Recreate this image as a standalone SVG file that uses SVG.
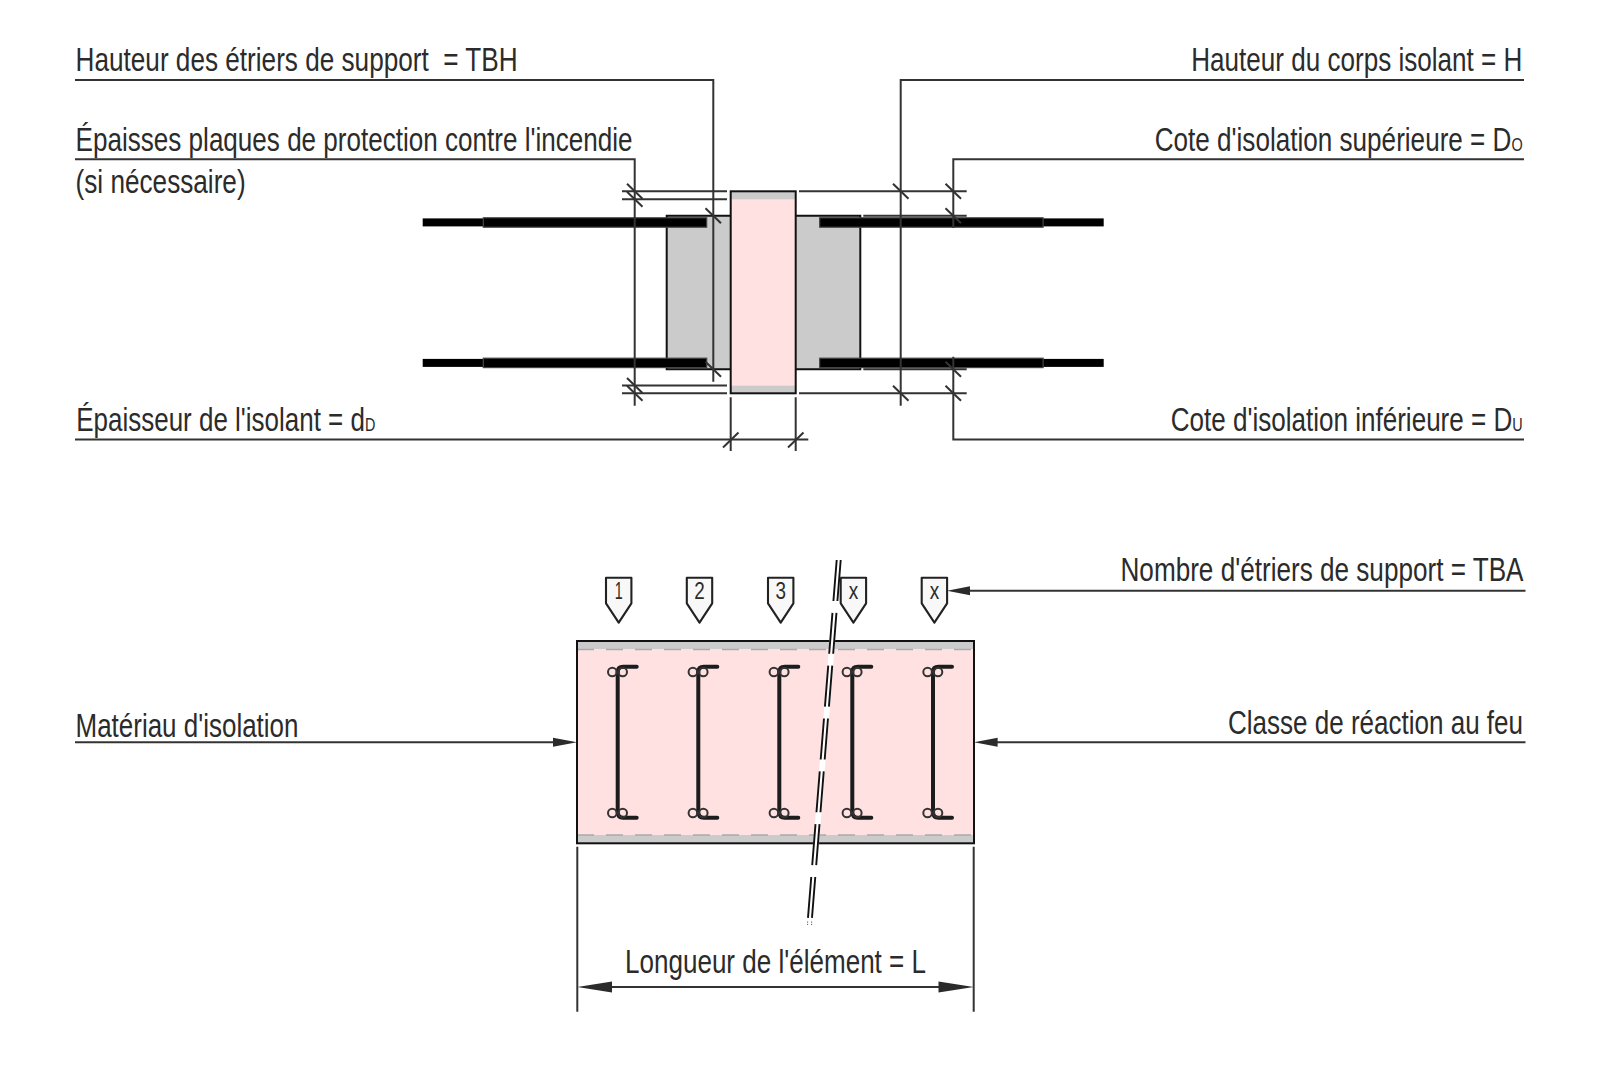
<svg xmlns="http://www.w3.org/2000/svg" width="1604" height="1067" viewBox="0 0 1604 1067">
<style>
text{font-family:"Liberation Sans Narrow","Liberation Sans",Arial,sans-serif;font-size:32.5px;fill:#2b2b2b;white-space:pre}
.sub{font-size:18px}
.tag{font-size:23px;text-anchor:middle}
.tagx{font-size:24px;text-anchor:middle}
.dim{fill:none;stroke:#333;stroke-width:2}
.out{stroke:#111;stroke-width:2}
.pink{fill:#ffe1e1}
.grey{fill:#cbcbcb}
.bar{fill:#000;stroke:none}
.barthick{fill:#000;stroke:#444;stroke-width:1.2}
.head{fill:#2b2b2b;stroke:none}
.stirrup{fill:none;stroke:#1c1c1c;stroke-width:4;stroke-linecap:round}
.ring{fill:none;stroke:#333;stroke-width:2}
.tagshape{fill:#f8f8f8;stroke:#222;stroke-width:2.1;stroke-linejoin:round}
.edge{fill:none;stroke:#aaa;stroke-width:1.4;stroke-dasharray:17 12}
</style>
<defs>
<g id="stirrup-shape">
<path class="stirrup" d="M0 672V812Q0 817.7 5.5 817.7H19"/>
<path class="stirrup" d="M0 672Q0 666.7 5.5 666.7H19"/>
<circle class="ring" cx="-5.4" cy="672" r="4.3"/><circle class="ring" cx="5" cy="672" r="4.3"/>
<circle class="ring" cx="-5.4" cy="813" r="4.3"/><circle class="ring" cx="5" cy="813" r="4.3"/>
</g>
<path id="tag-shape" class="tagshape" d="M-12.7 577.7H12.7V603.3L0 622.7L-12.7 603.3Z"/>
</defs>

<g id="section-insulation">
<rect class="grey" x="666.7" y="215.7" width="193.6" height="153.6"/>
<path class="out" fill="none" d="M730.7 215.7H666.7V369.3H730.7M795.7 215.7H860.3V369.3H795.7"/>
<rect class="pink" x="730.7" y="191.3" width="65" height="202"/>
<rect class="grey" x="730.7" y="191.3" width="65" height="8"/>
<rect class="grey" x="730.7" y="385.7" width="65" height="7.6"/>
<rect class="out" fill="none" x="730.7" y="191.3" width="65" height="202"/>
</g>
<g id="rebar-top-left"><rect class="bar" x="422.7" y="218.4" width="61" height="8"/><rect class="barthick" x="483.3" y="217.8" width="223.4" height="9.4"/></g>
<g id="rebar-top-right"><rect class="bar" x="1043" y="218.4" width="60.7" height="8"/><rect class="barthick" x="819.7" y="217.8" width="223.4" height="9.4"/></g>
<g id="rebar-bottom-left"><rect class="bar" x="422.7" y="358.9" width="61" height="8"/><rect class="barthick" x="483.3" y="358.2" width="223.4" height="9.4"/></g>
<g id="rebar-bottom-right"><rect class="bar" x="1043" y="358.9" width="60.7" height="8"/><rect class="barthick" x="819.7" y="358.2" width="223.4" height="9.4"/></g>

<g id="element-plan">
<rect class="pink" x="577" y="641" width="397" height="202.3"/>
<rect class="grey" x="577" y="641" width="397" height="8"/>
<rect class="grey" x="577" y="835" width="397" height="8.3"/>
<path class="edge" d="M577 649.5H974M577 835H974"/>
<rect class="out" fill="none" x="577" y="641" width="397" height="202.3"/>
</g>
<g id="stirrup-1"><use href="#stirrup-shape" x="617.7"/></g>
<g id="stirrup-2"><use href="#stirrup-shape" x="698.3"/></g>
<g id="stirrup-3"><use href="#stirrup-shape" x="779.3"/></g>
<g id="stirrup-4"><use href="#stirrup-shape" x="852.3"/></g>
<g id="stirrup-5"><use href="#stirrup-shape" x="933"/></g>

<g id="tag-1"><use href="#tag-shape" x="618.7"/><text class="tag" x="618.7" y="599" textLength="8" lengthAdjust="spacingAndGlyphs">1</text></g>
<g id="tag-2"><use href="#tag-shape" x="699.5"/><text class="tag" x="699.5" y="599" textLength="10.5" lengthAdjust="spacingAndGlyphs">2</text></g>
<g id="tag-3"><use href="#tag-shape" x="780.7"/><text class="tag" x="780.7" y="599" textLength="10.5" lengthAdjust="spacingAndGlyphs">3</text></g>
<g id="tag-x1"><use href="#tag-shape" x="853.4"/><text class="tagx" x="853.4" y="599" textLength="9.5" lengthAdjust="spacingAndGlyphs">x</text></g>
<g id="tag-x2"><use href="#tag-shape" x="934.4"/><text class="tagx" x="934.4" y="599" textLength="9.5" lengthAdjust="spacingAndGlyphs">x</text></g>

<g id="break-line">
<path d="M838.7 560L810 922" fill="none" stroke="#fff" stroke-width="5.6"/>
<path d="M836.7 560L807.9 919M840.7 560L811.9 919" fill="none" stroke="#111" stroke-width="1.9" stroke-dasharray="41.1 11.9"/>
<path d="M807.6 921.5V925M811.6 921.5V925" fill="none" stroke="#555" stroke-width="1" stroke-dasharray="1.2 1.2"/>
</g>

<g id="connectors">
<path class="dim" d="M75 80H713.3V381.7"/>
<path class="dim" d="M75 159.3H634.7V405.7"/>
<path class="dim" d="M1524 80H900.7V405.7"/>
<path class="dim" d="M1524 159.3H953.3V228"/>
<path class="dim" d="M953.3 356.7V439.6H1524"/>
<path class="dim" d="M75 439.6H808.3"/>
<path class="dim" d="M730.7 397.3V451M795.7 397.3V451"/>
<path class="dim" d="M622 191.3H727M622 199.3H727M622 385.5H727M622 393.3H727"/>
<path class="dim" d="M799 191.3H966.7M799 393.3H966.7M863.3 215.7H966.7M863.3 369.3H966.7"/>
<path class="dim" d="M627 183.8l15.5 15M627 191.8l15.5 15M627 378l15.5 15M627 385.8l15.5 15M705.5 208.2l15.5 15M705.5 361.8l15.5 15M893 183.8l15.5 15M893 385.8l15.5 15M945.5 183.8l15.5 15M945.5 208.2l15.5 15M945.5 361.8l15.5 15M945.5 385.8l15.5 15M723 447.5l15.5 -15M788 447.5l15.5 -15"/>
<path class="dim" d="M970 590.7H1525.5"/>
<path class="head" d="M947 590.7L970 586.2V595.2Z"/>
<path class="dim" d="M75 742.3H560"/>
<path class="head" d="M577 742.3L553 737.8V746.8Z"/>
<path class="dim" d="M990 742.3H1525.5"/>
<path class="head" d="M974 742.3L997.6 737.8V746.8Z"/>
<path class="dim" d="M577.3 846.7V1011.7M973.7 846.7V1011.7M590 987H960"/>
<path class="head" d="M577.3 987L612 981.5V992.5Z"/>
<path class="head" d="M973.7 987L938.5 981.5V992.5Z"/>
</g>

<g id="labels">
<text x="75.6" y="70.7" textLength="442" lengthAdjust="spacingAndGlyphs">Hauteur des étriers de support  = TBH</text>
<text x="75.6" y="150.5" textLength="557" lengthAdjust="spacingAndGlyphs">Épaisses plaques de protection contre l'incendie</text>
<text x="75.6" y="192.5" textLength="170" lengthAdjust="spacingAndGlyphs">(si nécessaire)</text>
<text x="1191.3" y="70.7" textLength="331" lengthAdjust="spacingAndGlyphs">Hauteur du corps isolant = H</text>
<text x="1154.7" y="150.5" textLength="368" lengthAdjust="spacingAndGlyphs">Cote d'isolation supérieure = D<tspan class="sub">O</tspan></text>
<text x="76.3" y="431" textLength="299" lengthAdjust="spacingAndGlyphs">Épaisseur de l'isolant = d<tspan class="sub">D</tspan></text>
<text x="1170.7" y="431" textLength="352" lengthAdjust="spacingAndGlyphs">Cote d'isolation inférieure = D<tspan class="sub">U</tspan></text>
<text x="1120.5" y="581" textLength="403" lengthAdjust="spacingAndGlyphs">Nombre d'étriers de support = TBA</text>
<text x="1228" y="733.5" textLength="295" lengthAdjust="spacingAndGlyphs">Classe de réaction au feu</text>
<text x="75.5" y="736.5" textLength="223" lengthAdjust="spacingAndGlyphs">Matériau d'isolation</text>
<text x="625" y="973.3" textLength="301" lengthAdjust="spacingAndGlyphs">Longueur de l'élément = L</text>
</g>
</svg>
